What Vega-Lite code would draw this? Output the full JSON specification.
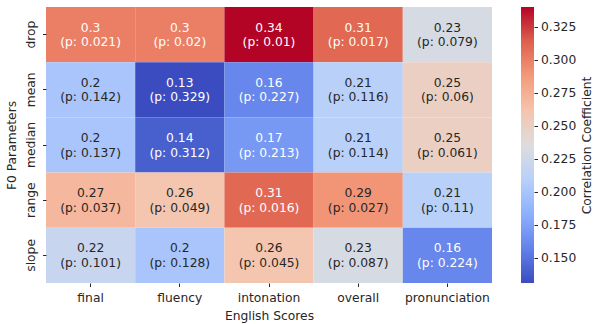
{
  "$schema": "https://vega.github.io/schema/vega-lite/v6.json",
  "padding": {"left": 5, "top": 7, "right": 2, "bottom": 2},
  "background": "white",
  "spacing": 29,
  "config": {
    "view": {"stroke": null},
    "font": "DejaVu Sans",
    "axis": {"labelFont": "DejaVu Sans", "titleFont": "DejaVu Sans", "labelFontSize": 12.3, "titleFontSize": 12.3, "titleFontWeight": "normal", "labelColor": "#262626", "titleColor": "#262626", "domain": false, "tickColor": "#262626", "tickSize": 3.5, "grid": false}
  },
  "hconcat": [
    {
      "width": 446,
      "height": 276,
      "data": {
        "values": [
          {"param": "drop", "score": "final", "r": 0.3, "p": 0.021},
          {"param": "drop", "score": "fluency", "r": 0.3, "p": 0.02},
          {"param": "drop", "score": "intonation", "r": 0.34, "p": 0.01},
          {"param": "drop", "score": "overall", "r": 0.31, "p": 0.017},
          {"param": "drop", "score": "pronunciation", "r": 0.23, "p": 0.079},
          {"param": "mean", "score": "final", "r": 0.2, "p": 0.142},
          {"param": "mean", "score": "fluency", "r": 0.13, "p": 0.329},
          {"param": "mean", "score": "intonation", "r": 0.16, "p": 0.227},
          {"param": "mean", "score": "overall", "r": 0.21, "p": 0.116},
          {"param": "mean", "score": "pronunciation", "r": 0.25, "p": 0.06},
          {"param": "median", "score": "final", "r": 0.2, "p": 0.137},
          {"param": "median", "score": "fluency", "r": 0.14, "p": 0.312},
          {"param": "median", "score": "intonation", "r": 0.17, "p": 0.213},
          {"param": "median", "score": "overall", "r": 0.21, "p": 0.114},
          {"param": "median", "score": "pronunciation", "r": 0.25, "p": 0.061},
          {"param": "range", "score": "final", "r": 0.27, "p": 0.037},
          {"param": "range", "score": "fluency", "r": 0.26, "p": 0.049},
          {"param": "range", "score": "intonation", "r": 0.31, "p": 0.016},
          {"param": "range", "score": "overall", "r": 0.29, "p": 0.027},
          {"param": "range", "score": "pronunciation", "r": 0.21, "p": 0.11},
          {"param": "slope", "score": "final", "r": 0.22, "p": 0.101},
          {"param": "slope", "score": "fluency", "r": 0.2, "p": 0.128},
          {"param": "slope", "score": "intonation", "r": 0.26, "p": 0.045},
          {"param": "slope", "score": "overall", "r": 0.23, "p": 0.087},
          {"param": "slope", "score": "pronunciation", "r": 0.16, "p": 0.224}
        ]
      },
      "transform": [
        {"calculate": "[datum.r + '', '(p: ' + datum.p + ')']", "as": "label"}
      ],
      "encoding": {
        "x": {"field": "score", "type": "nominal", "sort": ["final", "fluency", "intonation", "overall", "pronunciation"], "scale": {"paddingInner": 0, "paddingOuter": 0}, "axis": {"title": "English Scores", "labelAngle": 0, "labelPadding": 5, "titlePadding": 6}},
        "y": {"field": "param", "type": "nominal", "sort": ["drop", "mean", "median", "range", "slope"], "scale": {"paddingInner": 0, "paddingOuter": 0}, "axis": {"title": "F0 Parameters", "labelAngle": -90, "labelAlign": "center", "labelBaseline": "bottom", "labelPadding": 5, "titlePadding": 6}}
      },
      "layer": [
        {
          "mark": {"type": "rect"},
          "encoding": {
            "color": {
              "field": "r", "type": "quantitative",
              "scale": {"domain": [0.131, 0.34], "range": ["#3b4cc0", "#6282ea", "#8db0fe", "#b8d0f9", "#dddddd", "#f5c4ad", "#f49a7b", "#de604d", "#b40426"], "interpolate": "rgb", "clamp": true},
              "legend": null
            }
          }
        },
        {
          "mark": {"type": "text", "fontSize": 12.3, "lineHeight": 14.5, "dy": -7, "font": "DejaVu Sans"},
          "encoding": {
            "text": {"field": "label"},
            "color": {"condition": {"test": "datum.r >= 0.295 || datum.r <= 0.175", "value": "white"}, "value": "#262626"}
          }
        }
      ]
    },
    {
      "width": 13,
      "height": 276,
      "data": {"values": [{"lo": 0.131, "hi": 0.34}]},
      "mark": {"type": "rect", "color": {"gradient": "linear", "x1": 0, "y1": 1, "x2": 0, "y2": 0, "stops": [
        {"offset": 0, "color": "#3b4cc0"},
        {"offset": 0.125, "color": "#6282ea"},
        {"offset": 0.25, "color": "#8db0fe"},
        {"offset": 0.375, "color": "#b8d0f9"},
        {"offset": 0.5, "color": "#dddddd"},
        {"offset": 0.625, "color": "#f5c4ad"},
        {"offset": 0.75, "color": "#f49a7b"},
        {"offset": 0.875, "color": "#de604d"},
        {"offset": 1, "color": "#b40426"}
      ]}},
      "encoding": {
        "y": {"field": "lo", "type": "quantitative", "scale": {"domain": [0.131, 0.34], "nice": false, "zero": false}, "axis": {"orient": "right", "title": "Correlation Coefficient", "titleAngle": -90, "titleBaseline": "top", "values": [0.15, 0.175, 0.2, 0.225, 0.25, 0.275, 0.3, 0.325], "format": ".3f", "labelPadding": 3, "titlePadding": 5}},
        "y2": {"field": "hi"}
      }
    }
  ]
}
